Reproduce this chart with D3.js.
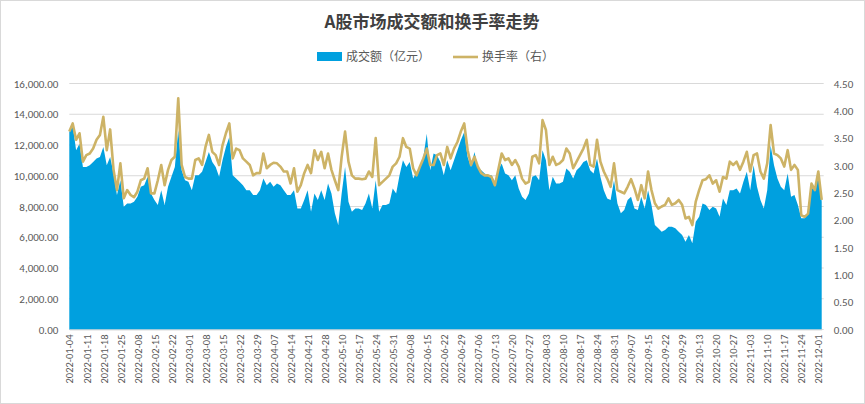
<!DOCTYPE html>
<html><head><meta charset="utf-8">
<script src="https://cdn.jsdelivr.net/npm/d3@7"></script>
<style>body{margin:0;background:#fff}svg{display:block;font-family:"Microsoft YaHei","Noto Sans CJK SC",sans-serif}</style>
</head><body><svg id="c" width="865" height="404"></svg>
<script>
const tickLabels=["2022-01-04","2022-01-11","2022-01-18","2022-01-25","2022-02-08","2022-02-15","2022-02-22","2022-03-01","2022-03-08","2022-03-15","2022-03-22","2022-03-29","2022-04-07","2022-04-14","2022-04-21","2022-04-28","2022-05-10","2022-05-17","2022-05-24","2022-05-31","2022-06-08","2022-06-15","2022-06-22","2022-06-29","2022-07-06","2022-07-13","2022-07-20","2022-07-27","2022-08-03","2022-08-10","2022-08-17","2022-08-24","2022-08-31","2022-09-07","2022-09-15","2022-09-22","2022-09-29","2022-10-13","2022-10-20","2022-10-27","2022-11-03","2022-11-10","2022-11-17","2022-11-24","2022-12-01"];
const volume=[12845,13277,11657,12089,10577,10577,10685,10901,11117,11225,
11873,10685,11225,10145,8741,9713,7985,8201,8201,8309,
8633,9281,9389,9929,8849,8417,8093,9065,8093,9281,
9929,10577,12953,10361,9713,9605,9065,10037,10037,10253,
10901,11549,10901,10577,9929,11009,11873,12521,10037,9821,
9605,9389,9065,9065,8741,8741,9065,9821,9389,9605,
9281,9497,9389,9065,8741,8741,9065,7877,7877,8417,
9065,7661,8849,8417,9065,8417,9497,8849,7553,6797,
8849,10577,8309,7661,7877,7877,7769,8201,8849,7877,
9713,7661,8093,8093,8201,9173,8849,10037,11009,10577,
10901,9821,10253,10577,11225,12737,10361,11441,11333,10901,
10037,11009,10361,11009,11657,12305,12845,11225,10577,11549,
10577,10361,10145,10037,10037,9605,10361,10793,10145,10037,
9713,10037,9173,8633,8417,8849,9929,10037,9713,11657,
11009,9065,9929,9497,9497,9605,10469,10253,9821,10361,
10577,10901,11009,10361,10145,11117,9929,9065,8525,8417,
9713,8201,7553,7769,8417,8633,7877,7769,8633,7877,
9065,8093,6797,6581,6365,6473,6689,6689,6581,6365,
6149,5705,6149,5609,7013,7337,8201,8093,7769,7985,
7877,7337,8525,8093,9065,9065,9173,8849,9605,10253,
9065,10685,9281,8417,7877,9065,11981,10685,9821,9281,
9065,10145,8633,8741,8093,7229,7229,7553,9281,9065,
10361,8309];
const turnover=[3.62,3.77,3.47,3.59,3.07,3.19,3.22,3.31,3.47,3.56,
3.89,3.28,3.66,2.92,2.55,3.04,2.40,2.55,2.46,2.42,
2.52,2.73,2.76,2.95,2.49,2.49,2.73,3.01,2.64,2.92,
3.10,3.16,4.23,3.01,2.79,2.76,2.76,3.10,3.13,3.01,
3.34,3.56,3.25,3.19,3.01,3.37,3.59,3.77,3.13,3.31,
3.28,3.13,3.07,3.01,2.82,2.86,2.86,3.22,2.95,3.01,
3.05,3.04,2.98,2.89,2.89,2.67,2.95,2.52,2.64,2.86,
3.01,2.86,3.28,3.10,3.25,2.95,3.22,2.92,2.73,2.55,
3.16,3.62,3.07,2.82,2.76,2.76,2.75,2.76,2.89,2.79,
3.50,2.64,2.70,2.76,2.82,2.98,3.04,3.16,3.50,3.34,
3.31,2.95,2.82,2.98,3.13,3.31,3.01,3.01,3.19,3.22,
3.01,3.34,3.13,3.31,3.43,3.62,3.77,3.28,3.01,3.16,
2.98,2.86,2.82,2.82,2.79,2.64,2.92,3.22,3.10,3.13,
3.01,3.10,2.98,2.76,2.67,2.70,3.16,3.19,3.04,3.83,
3.65,3.01,3.16,3.01,3.04,3.10,3.31,3.22,2.95,3.07,
3.19,3.31,3.47,3.01,2.98,3.47,3.07,2.89,2.76,2.61,
3.04,2.55,2.52,2.49,2.61,2.75,2.58,2.37,2.64,2.40,
2.89,2.55,2.31,2.21,2.25,2.28,2.40,2.28,2.31,2.37,
2.28,2.03,2.06,1.91,2.34,2.55,2.73,2.75,2.82,2.67,
2.73,2.52,2.79,2.76,3.07,3.01,3.07,2.92,3.07,3.25,
2.89,3.19,3.22,2.89,2.76,3.04,3.74,3.22,3.19,3.13,
2.98,3.28,2.92,3.01,2.92,2.09,2.06,2.12,2.67,2.55,
2.89,2.37];
const leftTicks=[0,2000,4000,6000,8000,10000,12000,14000,16000];
const rightTicks=[0,0.5,1,1.5,2,2.5,3,3.5,4,4.5];
const blue="#00A0DF",gold="#CDB366",txt="#595959";

const svg=d3.select("#c");
svg.append("rect").attr("x",0.5).attr("y",0.5).attr("width",864).attr("height",403).attr("fill","#fff").attr("stroke","#d9d9d9");
const L=69.3,R=821.7,T=83.5,B=329.5;
const x=d3.scaleLinear().domain([0,volume.length-1]).range([L,R]);
const y=d3.scaleLinear().domain([0,16000]).range([B,T]);
const y2=d3.scaleLinear().domain([0,4.5]).range([B,T]);

svg.append("g").selectAll("line").data(leftTicks).join("line")
 .attr("x1",L).attr("x2",R+2).attr("y1",d=>y(d)).attr("y2",d=>y(d)).attr("stroke","#d9d9d9");

svg.append("path").datum(volume).attr("fill",blue)
 .attr("d",d3.area().x((d,i)=>x(i)).y0(B).y1(d=>y(d)));
svg.append("path").datum(turnover).attr("fill","none").attr("stroke",gold).attr("stroke-width",2.6).attr("stroke-linejoin","round")
 .attr("d",d3.line().x((d,i)=>x(i)).y(d=>y2(d)));

const ax=svg.append("g").attr("transform",`translate(${L-8},0)`).call(d3.axisLeft(y).tickValues(leftTicks).tickSize(0).tickFormat(d=>d3.format(",.2f")(d)));
const ax2=svg.append("g").attr("transform",`translate(${R+9},0)`).call(d3.axisRight(y2).tickValues(rightTicks).tickSize(0).tickFormat(d3.format(".2f")));
[ax,ax2].forEach(a=>{a.select(".domain").remove();a.selectAll("text").attr("fill",txt).style("font-size","11px").style("font-family","Calibri,Carlito,'Liberation Sans',sans-serif");});

const xa=svg.append("g").attr("transform",`translate(0,${B})`).call(d3.axisBottom(x).tickValues(tickLabels.map((d,i)=>i*5)).tickSize(0).tickFormat((d,i)=>tickLabels[i]));
xa.select(".domain").attr("stroke","#d9d9d9");
xa.selectAll("text").attr("fill",txt).style("font-size","10.5px").style("font-family","Calibri,Carlito,'Liberation Sans',sans-serif")
 .attr("transform","rotate(-90)").attr("text-anchor","end").attr("dx","-5").attr("dy","0.35em").attr("y",0).attr("x",0);

svg.append("text").attr("x",432).attr("y",28).attr("text-anchor","middle").attr("fill","#404040").style("font-size","17px").style("font-weight","bold").text("A股市场成交额和换手率走势");
const lg=svg.append("g");
lg.append("rect").attr("x",317).attr("y",52).attr("width",25).attr("height",9).attr("fill",blue);
lg.append("text").attr("x",346).attr("y",61).attr("fill",txt).style("font-size","12px").text("成交额（亿元）");
lg.append("line").attr("x1",453).attr("x2",478).attr("y1",57).attr("y2",57).attr("stroke",gold).attr("stroke-width",2.6);
lg.append("text").attr("x",482).attr("y",61).attr("fill",txt).style("font-size","12px").text("换手率（右）");
</script></body></html>
